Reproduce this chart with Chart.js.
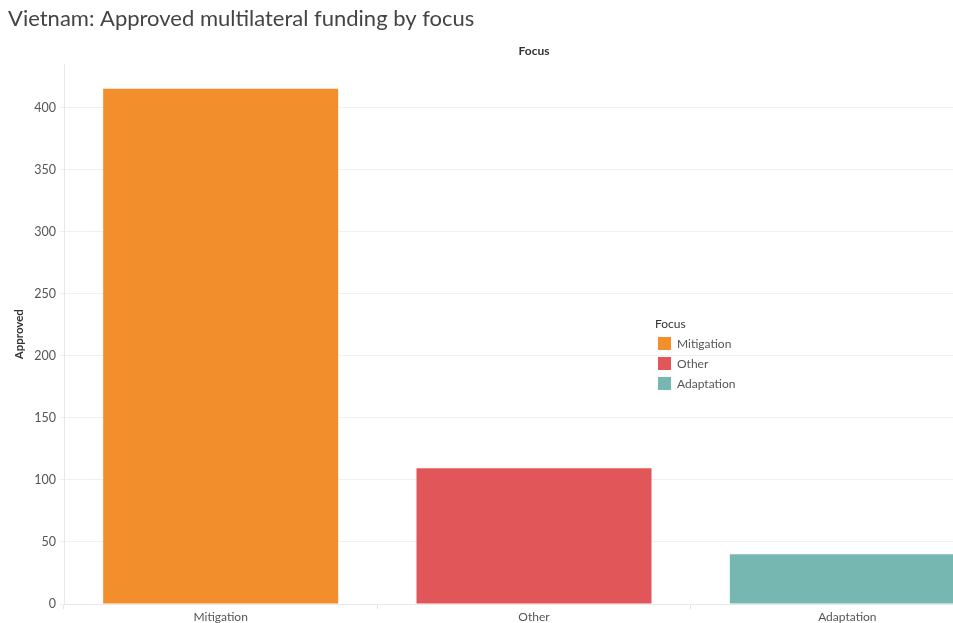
<!DOCTYPE html>
<html>
<head>
<meta charset="utf-8">
<script src="https://cdn.jsdelivr.net/npm/chart.js@4"></script>
<style>
  html, body { margin: 0; padding: 0; background: #fff; overflow: hidden; }
  #wrap { position: relative; width: 1010px; height: 623px; }
  #legend { position: absolute; left: 655px; top: 316px; font-family: Lato, "Noto Sans", sans-serif; font-size: 12px; color: #555; }
  #legend .head { color: #333; margin-bottom: 2px; }
  #legend .item { display: flex; align-items: center; height: 20px; margin-left: 3px; }
  #legend .sw { width: 13px; height: 13px; margin-right: 6px; }
</style>
</head>
<body>
<div id="wrap">
  <canvas id="barChart" width="1010" height="623"></canvas>
  <div id="legend"></div>
</div>
<script>
// Focus categories and approved amounts
const focusLabels = ['Mitigation', 'Other', 'Adaptation'];
const approvedValues = [415.3, 109.5, 40.2];
const focusColors = ['#F28E2B', '#E15759', '#76B7B2'];
const yTicks = [0, 50, 100, 150, 200, 250, 300, 350, 400];

const fontFamily = 'Lato, "Noto Sans", sans-serif';

// Legend
const legendEl = document.getElementById('legend');
legendEl.innerHTML = '<div class="head">Focus</div>' + focusLabels.map((l, i) =>
    '<div class="item"><span class="sw" style="background:' + focusColors[i] + '"></span>' + l + '</div>'
).join('');

const ctx = document.getElementById('barChart').getContext('2d');
new Chart(ctx, {
    type: 'bar',
    data: {
        labels: focusLabels,
        datasets: [{
            label: 'Approved',
            data: approvedValues,
            backgroundColor: focusColors,
            categoryPercentage: 0.75,
            barPercentage: 1.0
        }]
    },
    options: {
        responsive: false,
        animation: false,
        layout: { padding: { left: 8, right: 6, top: 0, bottom: 0 } },
        plugins: {
            legend: { display: false },
            tooltip: { enabled: false },
            title: {
                display: true,
                text: 'Vietnam: Approved multilateral funding by focus',
                align: 'start',
                color: '#444',
                font: { family: fontFamily, size: 22, weight: 'normal' },
                padding: { top: 6, bottom: 9 }
            }
        },
        scales: {
            x: {
                position: 'bottom',
                grid: { offset: true, drawOnChartArea: false, drawTicks: true, tickLength: 5, color: '#e4e4e4' },
                border: { color: '#e8e8e8' },
                ticks: { color: '#555', font: { family: fontFamily, size: 12 }, padding: 1 },
                afterFit: s => { s.height = 19; }
            },
            xTop: {
                position: 'top',
                type: 'category',
                labels: focusLabels,
                grid: { display: false },
                border: { display: false },
                ticks: { display: false },
                title: { display: true, text: 'Focus', color: '#333', font: { family: fontFamily, size: 12, weight: 'bold' }, padding: { top: 3, bottom: 4 } },
                afterFit: s => { s.height = 23; }
            },
            y: {
                min: 0,
                max: 435,
                grid: { color: '#f0f0f0', tickLength: 4 },
                border: { color: '#e8e8e8' },
                ticks: { stepSize: 50, color: '#555', font: { family: fontFamily, size: 12.5 }, padding: 4 },
                afterBuildTicks: s => { s.ticks = yTicks.map(v => ({ value: v })); },
                title: { display: true, text: 'Approved', color: '#333', font: { family: fontFamily, size: 11.5, weight: 'bold' }, padding: { top: 4, bottom: 4 } },
                afterFit: s => { s.width = 56; }
            }
        }
    }
});
</script>
</body>
</html>
